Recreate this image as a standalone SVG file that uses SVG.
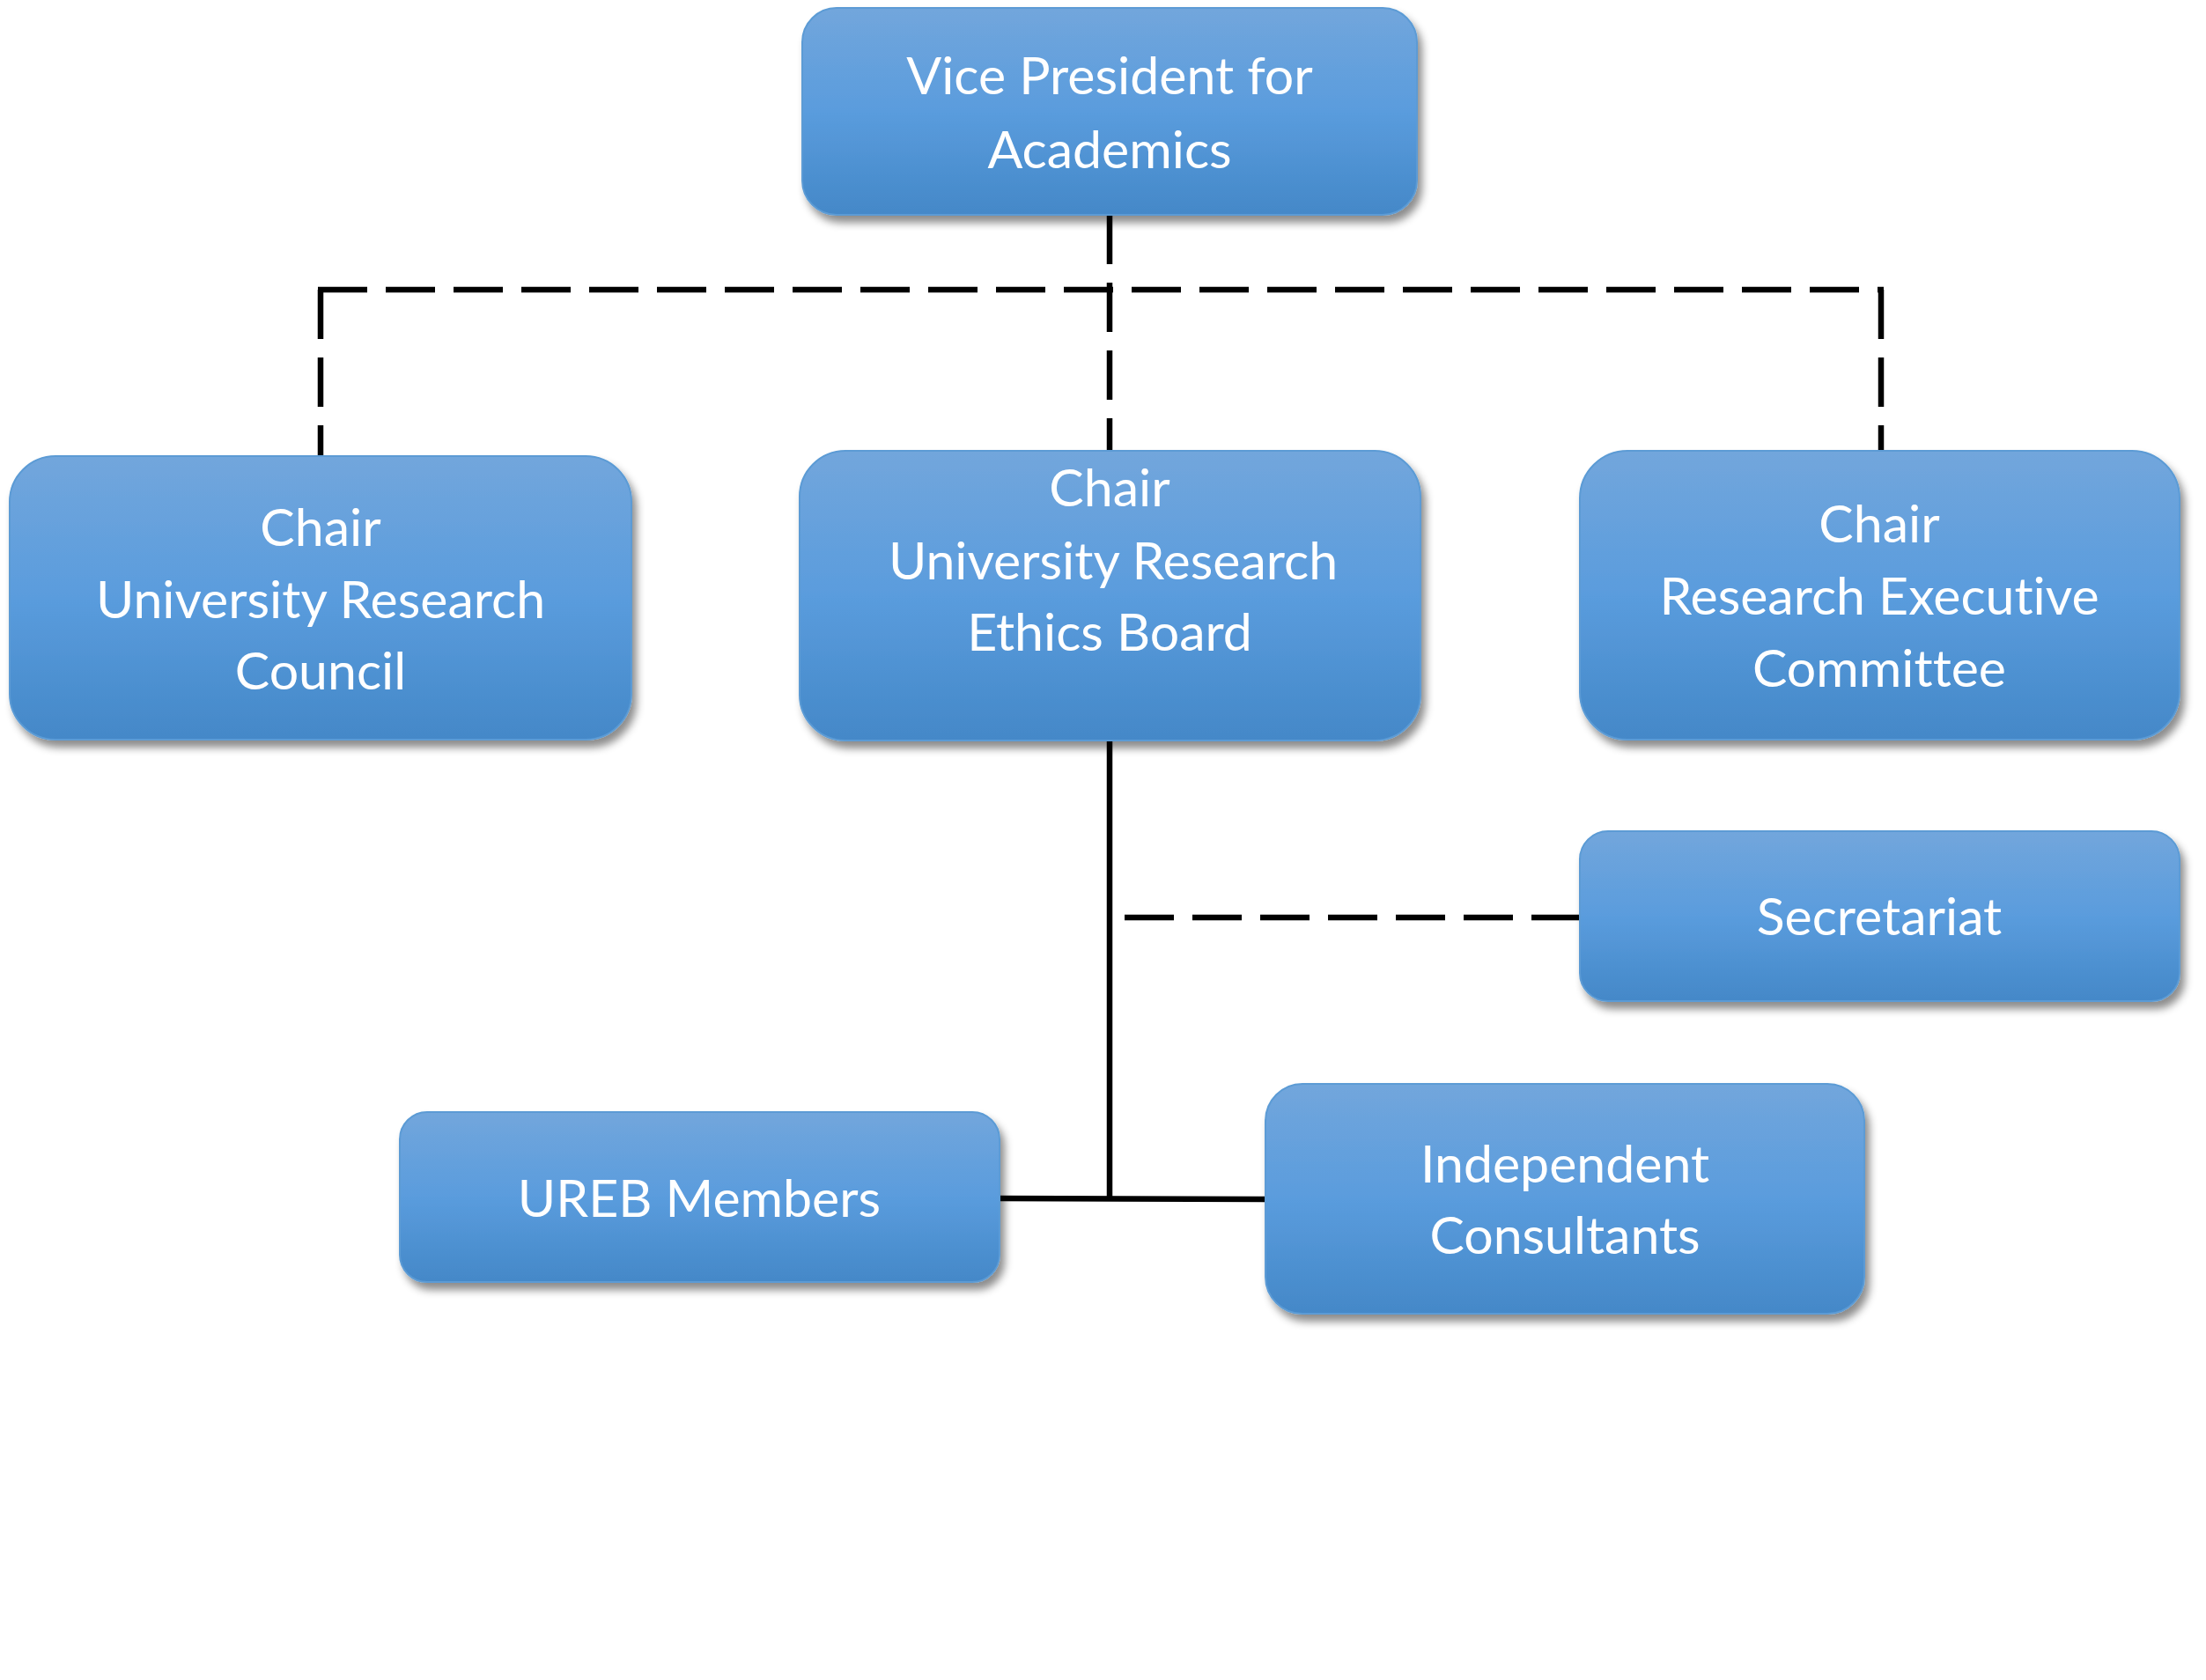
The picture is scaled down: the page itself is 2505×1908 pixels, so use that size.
<svg xmlns="http://www.w3.org/2000/svg" width="2505" height="1908" viewBox="0 0 2505 1908">
<style>
.box{fill:url(#g);stroke:#5b9bd5;stroke-width:2;filter:url(#sh)}
.t{font-family:Lato,"Open Sans","Liberation Sans",sans-serif;font-size:59px;fill:#ffffff;text-anchor:middle;font-variant-ligatures:none;font-feature-settings:"liga" 0,"dlig" 0}
.c{fill:none;stroke:#000;stroke-width:6.5}
.d{stroke-dasharray:56 21}
</style>
<defs>
<linearGradient id="g" x1="0" y1="0" x2="0" y2="1">
<stop offset="0" stop-color="#72a6dc"/>
<stop offset="0.5" stop-color="#5a9cdd"/>
<stop offset="1" stop-color="#4488c8"/>
</linearGradient>
<filter id="sh" x="-10%" y="-10%" width="125%" height="130%">
<feDropShadow dx="5" dy="8" stdDeviation="5" flood-color="#000" flood-opacity="0.45"/>
</filter>
</defs>
<rect width="2505" height="1908" fill="#fff"/>
<g id="connectors">
<path class="c d" d="M1260,244 V512"/>
<path class="c d" d="M361,329 H2139"/>
<path class="c d" d="M364,329 V517"/>
<path class="c d" d="M2136,329 V512"/>
<path class="c d" d="M1277,1042 H1794"/>
<path class="c" d="M1260,840 V1361"/>
<path class="c" d="M1136,1361 L1437,1362"/>
</g>
<g id="vp">
<rect class="box" x="911" y="9" width="698" height="235" rx="39"/>
<text class="t" x="1260" y="107">Vice President for</text>
<text class="t" x="1260" y="191">Academics</text>
</g>
<g id="urc">
<rect class="box" x="11" y="518" width="706" height="322" rx="52"/>
<text class="t" x="364" y="620">Chair</text>
<text class="t" x="364" y="702">University Research</text>
<text class="t" x="364" y="783">Council</text>
</g>
<g id="ureb">
<rect class="box" x="908" y="512" width="705" height="329" rx="52"/>
<text class="t" x="1260" y="575">Chair</text>
<text class="t" x="1264" y="658">University Research</text>
<text class="t" x="1260" y="739">Ethics Board</text>
</g>
<g id="rec">
<rect class="box" x="1794" y="512" width="681" height="328" rx="54"/>
<text class="t" x="2134" y="616">Chair</text>
<text class="t" x="2134" y="698">Research Executive</text>
<text class="t" x="2134" y="780">Committee</text>
</g>
<g id="secretariat">
<rect class="box" x="1794" y="944" width="681" height="193" rx="32"/>
<text class="t" x="2134" y="1062">Secretariat</text>
</g>
<g id="members">
<rect class="box" x="454" y="1263" width="681" height="193" rx="31"/>
<text class="t" x="794" y="1382">UREB Members</text>
</g>
<g id="consultants">
<rect class="box" x="1437" y="1231" width="680" height="261" rx="42"/>
<text class="t" x="1777" y="1343">Independent</text>
<text class="t" x="1777" y="1424">Consultants</text>
</g>
</svg>
